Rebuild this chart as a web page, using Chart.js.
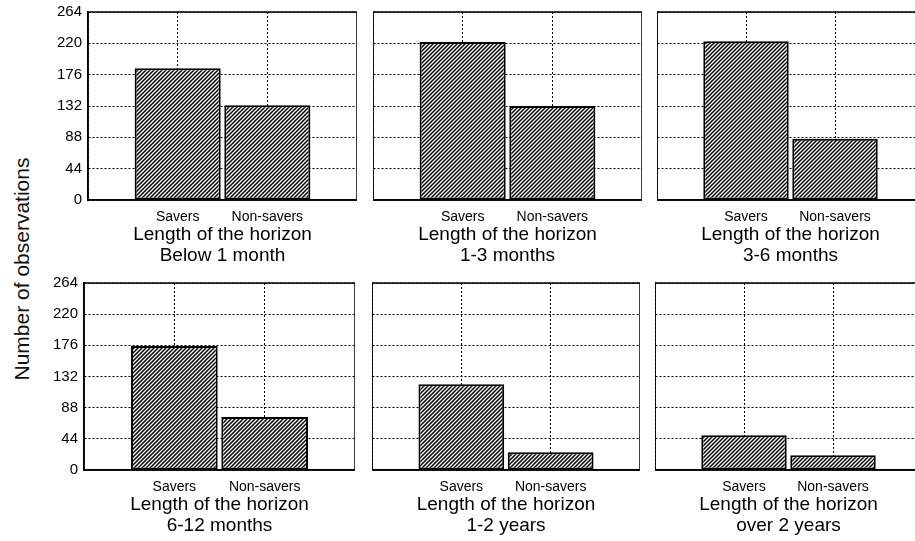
<!DOCTYPE html>
<html>
<head>
<meta charset="utf-8">
<script src="https://cdn.jsdelivr.net/npm/chart.js@4"></script>
<style>
  body { margin: 0; background: #fff; overflow: hidden; width: 915px; height: 541px; position: relative; font-family: "Liberation Sans", Arial, sans-serif; }
  .panel { position: absolute; }
  #ytitle { position: absolute; left: 22px; top: 269px; transform: translate(-50%, -50%) rotate(-90deg); font-size: 21px; white-space: nowrap; color: #111; }
</style>
</head>
<body>
<div id="ytitle">Number of observations</div>
<script>
// data
var groups = ['Savers', 'Non-savers'];
var horizons = ['Below 1 month', '1-3 months', '3-6 months', '6-12 months', '1-2 years', 'over 2 years'];
var savers = [185, 222, 223, 175, 121, 49];
var nonSavers = [133, 132, 86, 75, 25, 21];
var yTicks = [0, 44, 88, 132, 176, 220, 264];

// plot area of each panel: [left, right, top, bottom]
var boxes = [
  [88, 357, 12, 200], [373, 642, 12, 200], [657, 924, 12, 200],
  [84, 355, 283, 470], [372, 640, 283, 470], [655, 922, 283, 470]
];

function hatch() {
  var c = document.createElement('canvas');
  c.width = 4; c.height = 4;
  var g = c.getContext('2d');
  g.fillStyle = '#fff';
  g.fillRect(0, 0, 4, 4);
  g.strokeStyle = '#000';
  g.lineWidth = 1.5;
  g.beginPath();
  g.moveTo(-1, 5); g.lineTo(5, -1);
  g.moveTo(-1, 1); g.lineTo(1, -1);
  g.moveTo(3, 5); g.lineTo(5, 3);
  g.stroke();
  return g.createPattern(c, 'repeat');
}

var frame = {
  id: 'frame',
  afterDraw: function(chart) {
    var a = chart.chartArea, ctx = chart.ctx;
    ctx.save();
    ctx.strokeStyle = '#000';
    ctx.lineWidth = 1.5;
    ctx.strokeRect(a.left, a.top, a.right - a.left, a.bottom - a.top);
    ctx.restore();
  }
};

function makePanel(i) {
  var b = boxes[i];
  var row = i < 3 ? 0 : 1;
  var firstCol = (i % 3) == 0;
  var yw = firstCol ? 48 : 0;
  var y0 = row == 0 ? 0 : 270;
  var h = row == 0 ? 270 : 271;
  var cv = document.createElement('canvas');
  cv.className = 'panel';
  cv.width = yw + (b[1] - b[0]);
  cv.height = h;
  cv.style.left = (b[0] - yw) + 'px';
  cv.style.top = y0 + 'px';
  document.body.appendChild(cv);

  var padTop = b[2] - y0;
  var xh = h - padTop - (b[3] - b[2]);

  new Chart(cv, {
    type: 'bar',
    data: {
      datasets: [{
        data: [{x: 0, y: savers[i]}, {x: 1, y: nonSavers[i]}],
        backgroundColor: hatch(),
        borderColor: '#000',
        borderWidth: 2,
        borderSkipped: false,
        barPercentage: 0.96,
        categoryPercentage: 1
      }]
    },
    options: {
      responsive: false,
      animation: false,
      layout: { padding: { top: padTop, left: 0, right: 0, bottom: 0 } },
      plugins: { legend: { display: false }, tooltip: { enabled: false } },
      scales: {
        x: {
          type: 'linear',
          min: -1, max: 2,
          offset: false,
          afterFit: function(s) { s.height = xh; s.paddingLeft = 0; s.paddingRight = 0; },
          ticks: {
            stepSize: 1,
            autoSkip: false,
            maxRotation: 0,
            minRotation: 0,
            padding: 9,
            color: '#000',
            font: { family: 'Liberation Sans, Arial', size: 14 },
            callback: function(v) { return groups[v] || ''; }
          },
          grid: { color: '#000', lineWidth: 1, drawTicks: false, offset: false },
          border: { display: true, color: '#000', width: 1.5, dash: [2, 2] },
          title: {
            display: true,
            text: ['Length of the horizon', horizons[i]],
            color: '#000',
            font: { family: 'Liberation Sans, Arial', size: 19, lineHeight: 1.08 },
            padding: { top: 0, bottom: row == 0 ? 4 : 5 }
          }
        },
        y: {
          min: 0, max: 264,
          afterFit: function(s) { s.width = yw; s.paddingTop = 0; s.paddingBottom = 0; },
          afterBuildTicks: function(s) { s.ticks = yTicks.map(function(v) { return {value: v}; }); },
          ticks: {
            display: firstCol,
            padding: 6,
            color: '#000',
            font: { family: 'Liberation Sans, Arial', size: 15 }
          },
          grid: { color: '#000', lineWidth: 1, drawTicks: false },
          border: { display: true, color: '#000', width: 1.5, dash: [2, 2] }
        }
      }
    },
    plugins: [frame]
  });
}

for (var i = 0; i < 6; i++) makePanel(i);
</script>
</body>
</html>
